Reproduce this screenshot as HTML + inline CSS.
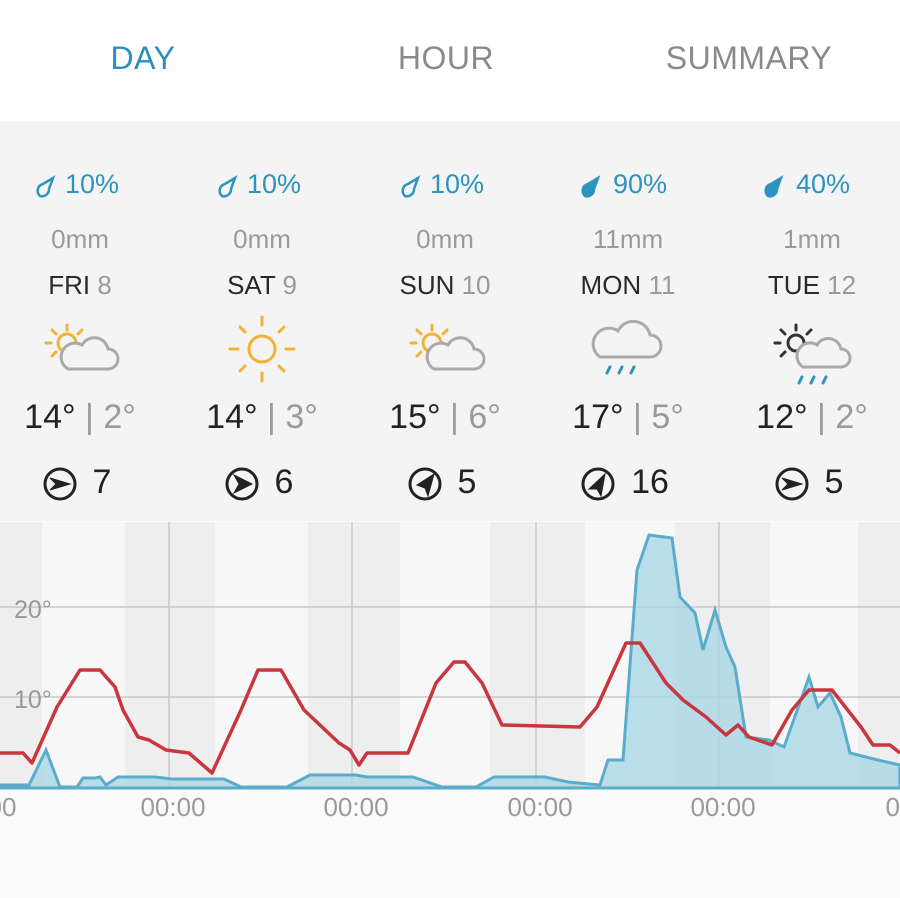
<!DOCTYPE html>
<html><head><meta charset="utf-8"><style>
body{margin:0;width:900px;height:898px;background:#fbfbfb;font-family:"Liberation Sans",sans-serif;overflow:hidden;position:relative}
.hdr{position:absolute;left:0;top:0;width:900px;height:121px;background:#fff}
.mid{position:absolute;left:0;top:121px;width:900px;height:400px;background:#f4f4f4}
.tab{position:absolute;top:40px;font-size:32px;color:#8a8a8a;transform:translateX(-50%);letter-spacing:0.5px}
.c{position:absolute;transform:translateX(-50%);white-space:nowrap;text-align:center}
.p{top:169px;font-size:27px;color:#2e93c0}
.mm{top:224px;font-size:26px;color:#9a9a9a}
.d{top:270px;font-size:26px;color:#2a2a2a}
.d span{color:#9a9a9a}
.t{top:398px;font-size:34px;color:#222}
.t span{color:#9a9a9a}
.w{top:463px;font-size:34px;color:#222}
.ax{position:absolute;top:792px;font-size:26px;color:#9a9a9a;transform:translateX(-50%)}
</style></head><body>
<div class="hdr"></div>
<div class="mid"></div>
<div class="tab" style="left:143px;color:#2a8fbf">DAY</div>
<div class="tab" style="left:446px">HOUR</div>
<div class="tab" style="left:749px">SUMMARY</div>

<svg width="900" height="40" style="position:absolute;left:0;top:168px" fill="none" stroke="#2e93c0" stroke-width="2.5">
 <path d="M40 28a7 7 0 0 1 3-12l10-6-4 11a7 7 0 0 1-9 7z"/>
 <path d="M222 28a7 7 0 0 1 3-12l10-6-4 11a7 7 0 0 1-9 7z"/>
 <path d="M405 28a7 7 0 0 1 3-12l10-6-4 11a7 7 0 0 1-9 7z"/>
 <path fill="#2e93c0" d="M585 28a7 7 0 0 1 3-12l10-6-4 11a7 7 0 0 1-9 7z"/>
 <path fill="#2e93c0" d="M768 28a7 7 0 0 1 3-12l10-6-4 11a7 7 0 0 1-9 7z"/>
</svg>
<div class="c p" style="left:92px">10%</div>
<div class="c p" style="left:274px">10%</div>
<div class="c p" style="left:457px">10%</div>
<div class="c p" style="left:640px">90%</div>
<div class="c p" style="left:823px">40%</div>

<div class="c mm" style="left:80px">0mm</div>
<div class="c mm" style="left:262px">0mm</div>
<div class="c mm" style="left:445px">0mm</div>
<div class="c mm" style="left:628px">11mm</div>
<div class="c mm" style="left:812px">1mm</div>

<div class="c d" style="left:80px">FRI <span>8</span></div>
<div class="c d" style="left:262px">SAT <span>9</span></div>
<div class="c d" style="left:445px">SUN <span>10</span></div>
<div class="c d" style="left:628px">MON <span>11</span></div>
<div class="c d" style="left:812px">TUE <span>12</span></div>

<svg width="900" height="100" style="position:absolute;left:0;top:305px" fill="none" stroke-linecap="round">
 <g stroke="#f2b233" stroke-width="3">
  <circle cx="67" cy="38" r="9"/><path d="M67 20v5M52 25l4 4M46 38h5M52 51l4-4M82 25l-4 4"/>
  <circle cx="262" cy="44" r="13"/><path d="M262 12v8M262 68v8M230 44h8M286 44h8M240 22l5 5M284 22l-5 5M240 66l5-5M284 66l-5-5"/>
  <circle cx="432" cy="38" r="9"/><path d="M432 20v5M417 25l4 4M411 38h5M417 51l4-4M447 25l-4 4"/>
 </g>
 <g stroke="#333" stroke-width="3">
  <circle cx="796" cy="38" r="8"/><path d="M796 20v5M781 25l4 4M775 38h5M781 51l4-4M811 25l-4 4"/>
 </g>
 <g stroke="#aaa" stroke-width="3" fill="#f4f4f4">
  <path d="M68 64h40a10 10 0 0 0 0-20a14 14 0 0 0-26-4a10 10 0 0 0-14 24z"/>
  <path d="M434 64h40a10 10 0 0 0 0-20a14 14 0 0 0-26-4a10 10 0 0 0-14 24z"/>
  <path d="M600 52h50a11 11 0 0 0 0-22a17 17 0 0 0-32-4a12 12 0 0 0-18 26z"/>
  <path d="M803 62h38a9 9 0 0 0 0-18a13 13 0 0 0-24-4a9 9 0 0 0-14 22z"/>
 </g>
 <g stroke="#2e93c0" stroke-width="3"><path d="M610 62l-3 6M622 62l-3 6M634 62l-3 6M802 72l-3 6M814 72l-3 6M826 72l-3 6"/></g>
</svg>

<div class="c t" style="left:80px">14° <span>| 2°</span></div>
<div class="c t" style="left:262px">14° <span>| 3°</span></div>
<div class="c t" style="left:445px">15° <span>| 6°</span></div>
<div class="c t" style="left:628px">17° <span>| 5°</span></div>
<div class="c t" style="left:812px">12° <span>| 2°</span></div>

<svg width="900" height="40" style="position:absolute;left:0;top:464px" fill="none" stroke="#222" stroke-width="3">
 <circle cx="60" cy="20" r="15"/><path fill="#222" stroke-width="1" d="M50 14l20 6-20 6 6-6z"/>
 <circle cx="242" cy="20" r="15"/><path fill="#222" stroke-width="1" d="M234 11l18 9-18 9 5-9z"/>
 <circle cx="425" cy="20" r="15"/><path fill="#222" stroke-width="1" d="M434 10l-6 22-3-8-8-3z"/>
 <circle cx="598" cy="20" r="15"/><path fill="#222" stroke-width="1" d="M605 10l-4 22-4-7-8 0z"/>
 <circle cx="792" cy="20" r="15"/><path fill="#222" stroke-width="1" d="M782 14l20 6-20 6 6-6z"/>
</svg>
<div class="c w" style="left:102px">7</div>
<div class="c w" style="left:284px">6</div>
<div class="c w" style="left:467px">5</div>
<div class="c w" style="left:650px">16</div>
<div class="c w" style="left:834px">5</div>

<svg width="900" height="300" style="position:absolute;left:0;top:510px">
 <rect x="0" y="12" width="900" height="266" fill="#f7f7f7"/>
 <g fill="#eeeeee">
  <rect x="0" y="12" width="42" height="266"/><rect x="125" y="12" width="90" height="266"/>
  <rect x="308" y="12" width="92" height="266"/><rect x="490" y="12" width="95" height="266"/>
  <rect x="675" y="12" width="95" height="266"/><rect x="858" y="12" width="42" height="266"/>
 </g>
 <g stroke="#c8c8c8" stroke-width="1.5">
  <path d="M0 97H900M0 187H900"/>
  <path d="M169 12V278M352 12V278M536 12V278M719 12V278"/>
 </g>
 <g stroke="#aaa" stroke-width="1.5"><path d="M0 278H900"/></g>
 <g transform="translate(0,-510)">
 <path fill="#a9d6e5" fill-opacity="0.8" stroke="#5aaccb" stroke-width="3" d="M0 785L29 785L46 750L60 787L77 787L83 778L95 778L100 777L106 785L118 777L155 777L172 779L224 779L241 787L287 787L310 775L356 775L367 777L413 777L442 787L476 787L494 777L545 777L568 782L600 785L608 760L623 760L637 570L649 535L672 538L680 597L695 613L703 650L715 610L726 647L735 667L746 737L769 740L784 747L809 677L818 707L830 693L841 717L850 753L878 760L900 765L900 788L0 788Z"/>
 <path fill="none" stroke="#c8363e" stroke-width="3.5" stroke-linejoin="round" d="M0 753L23 753L32 763L57 707L80 670L100 670L115 687L123 710L138 737L149 740L166 750L189 753L212 773L241 710L258 670L281 670L304 710L339 743L350 750L359 765L367 753L408 753L436 683L454 662L465 662L482 683L502 725L580 727L597 707L626 643L640 643L666 683L683 700L706 717L726 735L738 725L749 737L772 745L792 710L809 690L832 690L861 727L873 745L890 745L900 753"/>
 </g>
 <text x="14" y="108" font-size="25" fill="#999" font-family="Liberation Sans">20°</text>
 <text x="14" y="198" font-size="25" fill="#999" font-family="Liberation Sans">10°</text>
</svg>
<div class="ax" style="left:2px">00</div>
<div class="ax" style="left:173px">00:00</div>
<div class="ax" style="left:356px">00:00</div>
<div class="ax" style="left:540px">00:00</div>
<div class="ax" style="left:723px">00:00</div>
<div class="ax" style="left:900px">00</div>
</body></html>
